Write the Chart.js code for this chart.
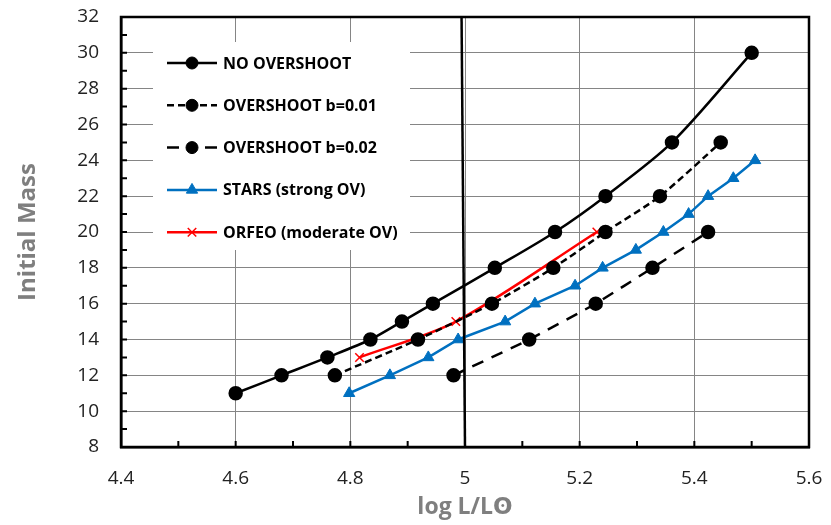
<!DOCTYPE html>
<html>
<head>
<meta charset="utf-8">
<script src="https://cdn.jsdelivr.net/npm/chart.js@4.4.1/dist/chart.umd.min.js"></script>
<style>
html, body { margin: 0; padding: 0; background: #fff; }
#wrap { width: 831px; height: 525px; }
</style>
</head>
<body>
<div id="wrap"><canvas id="myChart" width="831" height="525"></canvas></div>
<script>
// log L/Lo (axe x) et masse initiale (axe y) pour chaque modèle
const noOvLogL = [4.6, 4.68, 4.76, 4.835, 4.89, 4.944, 5.052, 5.157, 5.245, 5.361, 5.5];
const noOvMass = [11, 12, 13, 14, 15, 16, 18, 20, 22, 25, 30];

const ov01LogL = [4.773, 4.918, 5.047, 5.154, 5.245, 5.34, 5.446];
const ov01Mass = [12, 14, 16, 18, 20, 22, 25];

const ov02LogL = [4.98, 5.112, 5.228, 5.327, 5.424];
const ov02Mass = [12, 14, 16, 18, 20];

const starsLogL = [4.798, 4.869, 4.936, 4.988, 5.07, 5.122, 5.192, 5.24, 5.298, 5.346, 5.39, 5.424, 5.468, 5.506];
const starsMass = [11, 12, 13, 14, 15, 16, 17, 18, 19, 20, 21, 22, 23, 24];

const orfeoLogL = [4.816, 4.984, 5.23];
const orfeoMass = [13, 15, 20];

// ligne verticale log L = 5
const limitLogL = [4.994, 5.0];
const limitMass = [32, 8];

// graduations
const xTicks = [4.4, 4.6, 4.8, 5.0, 5.2, 5.4, 5.6];
const yTicks = [8, 10, 12, 14, 16, 18, 20, 22, 24, 26, 28, 30, 32];

const FONT = "'Open Sans', 'DejaVu Sans', sans-serif";

function toPoints(xs, ys) {
    return xs.map((x, i) => ({ x: x, y: ys[i] }));
}

// légende façon Excel, dessinée dans la zone du graphique
const legendItems = [
    { text: 'NO OVERSHOOT', color: '#000', dash: [], style: 'circle', r: 6, fill: true },
    { text: 'OVERSHOOT b=0.01', color: '#000', dash: [7, 4], style: 'circle', r: 6, fill: true },
    { text: 'OVERSHOOT b=0.02', color: '#000', dash: [12, 9], style: 'circle', r: 6, fill: true },
    { text: 'STARS (strong OV)', color: '#0070C0', dash: [], style: 'triangle', r: 6.5, fill: true },
    { text: 'ORFEO (moderate OV)', color: '#FF0000', dash: [], style: 'crossRot', r: 6, fill: false }
];

const excelFrame = {
    id: 'excelFrame',
    afterDatasetsDraw(chart) {
        const ctx = chart.ctx;
        const a = chart.chartArea;
        const xs = chart.scales.x, ys = chart.scales.y;
        ctx.save();

        // petites graduations vers l'intérieur
        ctx.strokeStyle = '#000';
        ctx.lineWidth = 2;
        ctx.beginPath();
        for (let v = 44; v <= 56; v++) {
            const px = xs.getPixelForValue(v / 10);
            ctx.moveTo(px, a.bottom);
            ctx.lineTo(px, a.bottom - 6);
        }
        for (let v = 8; v <= 32; v++) {
            const py = ys.getPixelForValue(v);
            ctx.moveTo(a.left, py);
            ctx.lineTo(a.left + 6, py);
        }
        ctx.stroke();

        // cadre
        ctx.lineWidth = 2.5;
        ctx.strokeRect(a.left, a.top, a.right - a.left, a.bottom - a.top);

        // légende
        const bx = a.left + 32, by = a.top + 25;
        ctx.fillStyle = '#fff';
        ctx.fillRect(bx, by, 257, 208);
        legendItems.forEach((it, i) => {
            const y = by + 21 + i * 42.3;
            const x0 = bx + 14, x1 = bx + 64;
            ctx.strokeStyle = it.color;
            ctx.fillStyle = it.color;
            ctx.lineWidth = 2.5;
            ctx.setLineDash(it.dash);
            ctx.beginPath();
            if (it.dash.length && it.dash[0] > 10) {
                ctx.setLineDash([]);
                ctx.moveTo(x0, y); ctx.lineTo(x0 + 12, y);
                ctx.moveTo(x1 - 12, y); ctx.lineTo(x1, y);
            } else {
                ctx.moveTo(x0, y); ctx.lineTo(x1, y);
            }
            ctx.stroke();
            ctx.setLineDash([]);
            ctx.lineWidth = it.fill ? 1 : 1.5;
            Chart.helpers.drawPoint(ctx, { pointStyle: it.style, radius: it.r, rotation: 0, borderWidth: ctx.lineWidth }, (x0 + x1) / 2, y);
            ctx.fillStyle = '#000';
            ctx.font = 'bold 16px ' + FONT;
            ctx.textAlign = 'left';
            ctx.textBaseline = 'middle';
            ctx.fillText(it.text, x1 + 6, y + 1);
        });
        ctx.restore();
    }
};

const ctx = document.getElementById('myChart').getContext('2d');

const myChart = new Chart(ctx, {
    type: 'scatter',
    data: {
        datasets: [
            {
                label: 'limit',
                data: toPoints(limitLogL, limitMass),
                showLine: true,
                borderColor: '#000',
                borderWidth: 2.5,
                pointRadius: 0,
                order: -1
            },
            {
                label: 'NO OVERSHOOT',
                data: toPoints(noOvLogL, noOvMass),
                showLine: true,
                tension: 0.3,
                borderColor: '#000',
                borderWidth: 2.5,
                backgroundColor: '#000',
                pointStyle: 'circle',
                pointRadius: 6
            },
            {
                label: 'OVERSHOOT b=0.01',
                data: toPoints(ov01LogL, ov01Mass),
                showLine: true,
                tension: 0.25,
                borderColor: '#000',
                borderWidth: 2.5,
                borderDash: [7, 4],
                backgroundColor: '#000',
                pointStyle: 'circle',
                pointRadius: 6
            },
            {
                label: 'OVERSHOOT b=0.02',
                data: toPoints(ov02LogL, ov02Mass),
                showLine: true,
                tension: 0.1,
                borderColor: '#000',
                borderWidth: 2.5,
                borderDash: [12, 9],
                backgroundColor: '#000',
                pointStyle: 'circle',
                pointRadius: 6
            },
            {
                label: 'STARS (strong OV)',
                data: toPoints(starsLogL, starsMass),
                showLine: true,
                tension: 0,
                borderColor: '#0070C0',
                borderWidth: 2.5,
                backgroundColor: '#0070C0',
                pointStyle: 'triangle',
                pointRadius: 6.5,
                pointBorderWidth: 1
            },
            {
                label: 'ORFEO (moderate OV)',
                data: toPoints(orfeoLogL, orfeoMass),
                showLine: true,
                tension: 0.3,
                borderColor: '#FF0000',
                borderWidth: 2.5,
                backgroundColor: '#FF0000',
                pointStyle: 'crossRot',
                pointRadius: 6,
                pointBorderWidth: 1.5
            }
        ]
    },
    options: {
        responsive: false,
        maintainAspectRatio: false,
        animation: false,
        devicePixelRatio: 1,
        layout: { padding: { left: 0, right: 22, top: 17, bottom: 0 } },
        plugins: {
            legend: { display: false },
            tooltip: { enabled: false }
        },
        scales: {
            x: {
                type: 'linear',
                min: 4.4,
                max: 5.6,
                afterBuildTicks: s => { s.ticks = xTicks.map(v => ({ value: v })); },
                afterFit: s => { s.height = 78; },
                ticks: {
                    padding: 0,
                    color: '#222',
                    font: { family: FONT, size: 19 },
                    callback: v => String(Number(v.toFixed(1)))
                },
                grid: { color: '#858585', lineWidth: 1, drawTicks: true, tickLength: 20, tickColor: 'rgba(0,0,0,0)' },
                border: { display: true, color: '#000', width: 2.5 },
                title: {
                    display: true,
                    text: 'log L/Lʘ',
                    color: '#7f7f7f',
                    font: { family: FONT, size: 23, weight: 'bold' },
                    padding: { top: 0, bottom: 4 }
                }
            },
            y: {
                type: 'linear',
                min: 8,
                max: 32,
                afterBuildTicks: s => { s.ticks = yTicks.map(v => ({ value: v })); },
                afterFit: s => { s.width = 121; },
                ticks: {
                    padding: 0,
                    color: '#222',
                    font: { family: FONT, size: 19 }
                },
                grid: { color: '#858585', lineWidth: 1, drawTicks: true, tickLength: 22, tickColor: 'rgba(0,0,0,0)' },
                border: { display: true, color: '#000', width: 2.5 },
                title: {
                    display: true,
                    text: 'Initial Mass',
                    color: '#7f7f7f',
                    font: { family: FONT, size: 24, weight: 'bold' },
                    padding: { top: 14, bottom: 0 }
                }
            }
        }
    },
    plugins: [excelFrame]
});
</script>
</body>
</html>
